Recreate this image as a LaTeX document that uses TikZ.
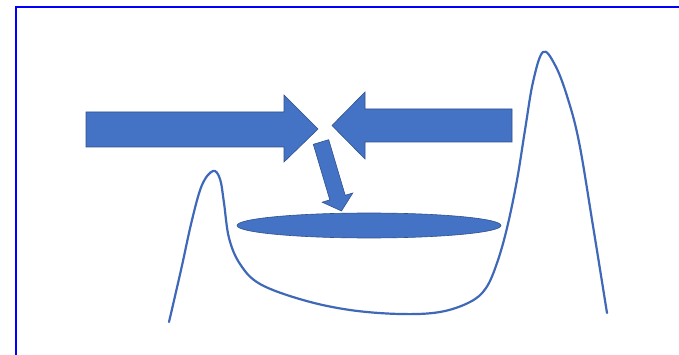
\documentclass[tikz,border=0pt]{standalone}
\usetikzlibrary{calc}
\definecolor{officeblue}{HTML}{4472C4}
\definecolor{officeedge}{HTML}{2F528F}
\definecolor{curveblue}{HTML}{3F69B8}
\definecolor{framblue}{HTML}{0000FF}
\begin{document}
\begin{tikzpicture}[x=1pt,y=-1pt,
  blockarrow/.style={fill=officeblue,draw=officeedge,line width=0.6pt,line join=miter},
  profile/.style={draw=curveblue,line width=2.2pt,line cap=round,line join=round},
  framestyle/.style={draw=framblue,line width=2pt}]
\useasboundingbox (0,0) rectangle (679,355);
\clip (0,0) rectangle (679,355);
\fill[white] (0,0) rectangle (679,355);
% frame
\draw[framestyle] (16,7) rectangle (700,380);
% profile curve
\draw[profile] plot[smooth,tension=0.6] coordinates {
 (169,322) (181,270) (192,220) (202,185) (213,171) (220,179) (224,203)
 (229,238) (240,264) (260,284) (303,300) (350,310) (400,314)
 (440,312) (470,302) (486,288) (497,263) (507,228) (517,180) (525,130) (533,82)
 (543,52) (555,65) (567,96) (579,142) (593,226) (607,313)};
% ellipse
\fill[officeblue,draw=officeedge,line width=0.6pt] (369,225.5) ellipse [x radius=132, y radius=12.5];
% left arrow (points right)
\draw[blockarrow] (86,112) -- (284,112) -- (284,95) -- (318,129) -- (284,162) -- (284,147) -- (86,147) -- cycle;
% right arrow (points left)
\draw[blockarrow] (512,109) -- (365,109) -- (365,92) -- (332,125.5) -- (365,159) -- (365,142) -- (512,142) -- cycle;
% diagonal arrow
\draw[blockarrow] (313.3,144.3) -- (328.7,139.7) -- (345.2,195.3) -- (352.8,193.0) -- (341.5,211.0) -- (322.2,202.2) -- (329.8,199.9) -- cycle;
\end{tikzpicture}
\end{document}
